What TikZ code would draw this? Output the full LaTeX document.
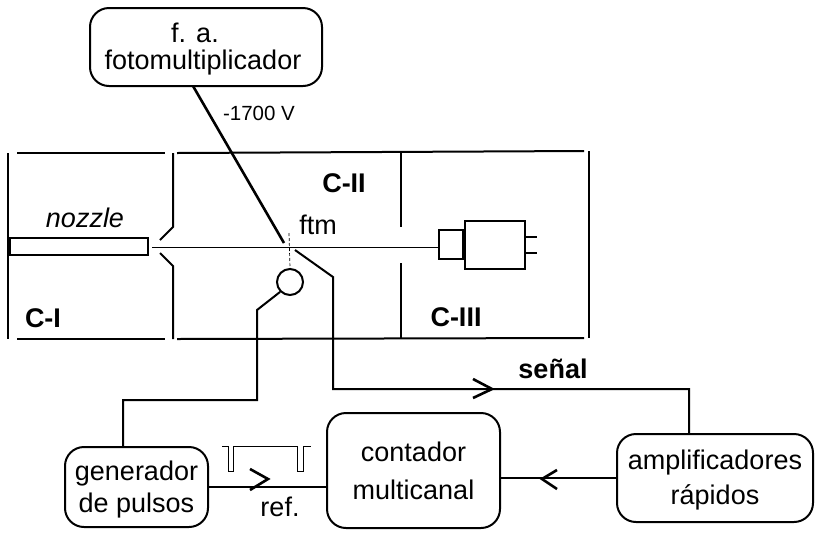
\documentclass[tikz,border=0pt]{standalone}
\usepackage{fontspec}
\setmainfont{Liberation Sans}
\usetikzlibrary{positioning}
\tikzset{every picture/.style={/utils/exec={\fontsize{27pt}{32pt}\selectfont}}}
\begin{document}
\begin{tikzpicture}[x=1pt,y=-1pt,line width=2pt,
    main/.style={rectangle,rounded corners=19pt,draw,align=center,inner sep=0pt,text depth=1pt},
    part/.style={rectangle,draw,inner sep=0pt},
    beam/.style={line width=0.7pt},
    head/.style={line width=2.6pt},
    tag/.style={inner sep=0pt},
    chamber/.style={inner sep=0pt,font=\bfseries}]
    \useasboundingbox (0,0) rectangle (816,539);

    \node[main,minimum width=232pt,minimum height=78pt] (fa) at (206,47) {\hspace*{-22pt}f. a.\\[-5pt]\hspace*{-6pt}fotomultiplicador};
    \node[main,minimum width=143pt,minimum height=80pt] (gen) at (136.5,487) {generador\\de pulsos};
    \node[main,minimum width=173pt,minimum height=115pt,text depth=-5pt] (cont) at (413.5,470.5) {contador\\[6pt]multicanal};
    \node[main,minimum width=196pt,minimum height=88pt] (amp) at (715,478) {amplificadores\\[3pt]r\'apidos};

    \draw (8,153) -- (8,339);
    \draw (17,153) -- (165,153);
    \draw (177,153) -- (584,151);
    \draw (17,339) -- (165,339);
    \draw (177,339) -- (584,338);
    \draw (589,151) -- (589,338);
    \draw (173,153) -- (173,227) -- (160,240);
    \draw (160,253) -- (173,266) -- (173,339);
    \draw (401,152) -- (401,227);
    \draw (401,263) -- (401,338);

    \node[part,minimum width=138pt,minimum height=17pt] (noz) at (79,246.5) {};
    \node[part,minimum width=24pt,minimum height=29pt] (det1) at (451,244.5) {};
    \node[part,minimum width=60pt,minimum height=48pt,right=0pt of det1] (det2) {};
    \node[circle,draw,minimum size=26pt,inner sep=0pt] (lamp) at (290,282) {};

    \coordinate (pin1) at (537,237);
    \coordinate (pin2) at (537,253);
    \draw (det2.east |- pin1) -- (pin1);
    \draw (det2.east |- pin2) -- (pin2);

    \coordinate (cross) at (289,247);
    \draw[beam] (152,247) -- (det1.west |- cross);
    \draw[beam,densely dashed] (289,233) -- (lamp.north);

    \coordinate (faout) at (193,86);
    \coordinate (ftmend) at (284,243);
    \coordinate (sig0) at (295,250);
    \coordinate (sig1) at (333,277);
    \coordinate (sig2) at (333,389);
    \coordinate (sig3) at (689,389);
    \coordinate (ref1) at (257,310);
    \coordinate (ref2) at (257,400);
    \coordinate (ref3) at (123,400);

    \draw[line width=2.6pt] (faout) -- (ftmend);
    \draw (sig0) -- (sig1) -- (sig2) -- (sig3) -- (sig3 |- amp.north);
    \draw (lamp.south west) -- (ref1) -- (ref2) -- (ref3) -- (ref3 |- gen.north);
    \draw (gen.east) -- (gen.east -| cont.west);
    \draw (cont.east |- amp.west) -- (amp.west);

    \draw[head] (473,379) -- (492,389) -- (473,398);
    \draw[head] (250,469) -- (268,479) -- (250,490);
    \draw[head] (557,470) -- (542,479) -- (557,489);

    \draw[line width=1pt] (222,446) -- (228,446) -- (228,471) -- (233,471) -- (233,446) -- (297,446) -- (297,471) -- (303,471) -- (303,446) -- (311,446);

    \node[tag,font=\fontsize{20.5pt}{24pt}\selectfont] (volt) at (259,113) {-1700 V};
    \node[tag,font=\itshape] (nozlab) at (85,218) {nozzle};
    \node[tag] (ftm) at (318,225) {ftm};
    \node[chamber] (c2) at (344,183) {C-II};
    \node[chamber] (c1) at (43,318) {C-I};
    \node[chamber] (c3) at (456,317) {C-III};
    \node[chamber] (sen) at (553,369) {se\~nal};
    \node[tag] (ref) at (280,507) {ref.};
\end{tikzpicture}
\end{document}
